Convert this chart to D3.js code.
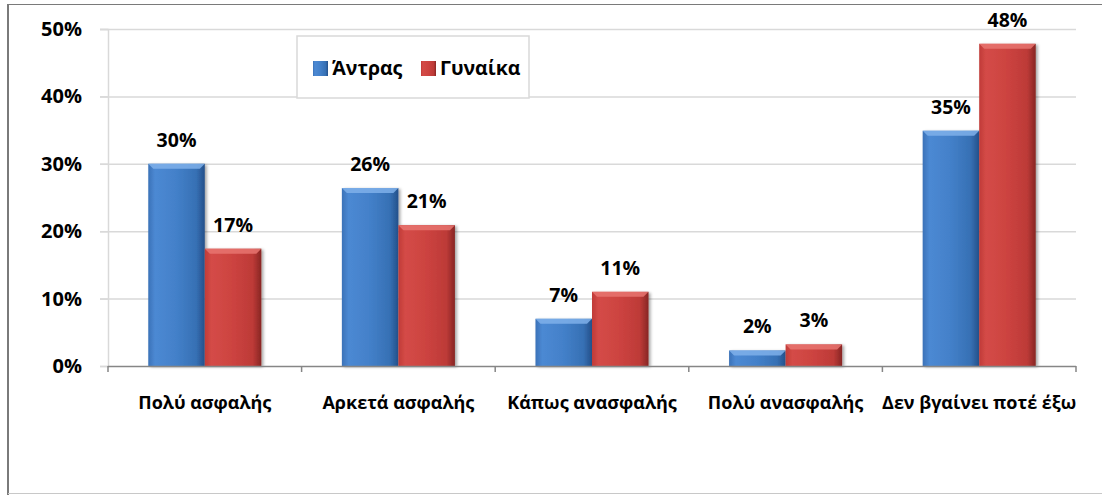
<!DOCTYPE html>
<html>
<head>
<meta charset="utf-8">
<script src="https://cdn.jsdelivr.net/npm/d3@7"></script>
<style>
  body { margin: 0; background: #fff; }
  svg { display: block; font-family: "Open Sans", sans-serif; font-weight: bold; }
</style>
</head>
<body>
<svg width="1102" height="495"></svg>
<script>
const categories = ['Πολύ ασφαλής', 'Αρκετά ασφαλής', 'Κάπως ανασφαλής', 'Πολύ ανασφαλής', 'Δεν βγαίνει ποτέ έξω'];
const seriesNames = ['Άντρας', 'Γυναίκα'];
const men = [30, 26.4, 7, 2.3, 34.9];
const women = [17.4, 20.9, 11, 3.2, 47.8];
const yTicks = [0, 10, 20, 30, 40, 50];

const margin = { left: 108, right: 26, top: 29, bottom: 129 };

const svg = d3.select('svg');
const width = +svg.attr('width');
const height = +svg.attr('height');
const innerWidth = width - margin.left - margin.right;
const innerHeight = height - margin.top - margin.bottom;

const rows = categories.map((c, i) => ({ cat: c, values: [men[i], women[i]] }));

// frame (cropped screenshot: top + left dark, bottom light)
svg.append('line').attr('x1', 7).attr('x2', width).attr('y1', 4.5).attr('y2', 4.5)
  .attr('stroke', '#7a7a7a').attr('stroke-width', 1);
svg.append('line').attr('x1', 8).attr('x2', 8).attr('y1', 4).attr('y2', height)
  .attr('stroke', '#7a7a7a').attr('stroke-width', 2);
svg.append('line').attr('x1', 8).attr('x2', width).attr('y1', 493.5).attr('y2', 493.5)
  .attr('stroke', '#c8c8c8').attr('stroke-width', 1);

const defs = svg.append('defs');
const grads = [
  { id: 'gBlue', stops: ['#3b72b8', '#4c89d3', '#4380c9', '#3670b4', '#24508a'] },
  { id: 'gRed', stops: ['#c03b38', '#d44b47', '#cc4340', '#bd3a37', '#872624'] }
];
grads.forEach(g => {
  const lg = defs.append('linearGradient').attr('id', g.id).attr('x1', 0).attr('x2', 1).attr('y1', 0).attr('y2', 0);
  [0, 0.12, 0.5, 0.85, 1].forEach((o, i) => lg.append('stop').attr('offset', o).attr('stop-color', g.stops[i]));
});
const shadow = defs.append('filter').attr('id', 'shadow').attr('x', '-10%').attr('y', '-10%').attr('width', '130%').attr('height', '130%');
shadow.append('feDropShadow').attr('dx', 2).attr('dy', 1).attr('stdDeviation', 1.5).attr('flood-color', '#000').attr('flood-opacity', 0.35);

const g = svg.append('g').attr('transform', `translate(${margin.left}, ${margin.top})`);

const yScale = d3.scaleLinear().domain([0, 50]).range([innerHeight, 0]);
const x0 = d3.scaleBand().domain(categories).range([0, innerWidth]).paddingInner(0.416).paddingOuter(0.208);
const x1 = d3.scaleBand().domain(seriesNames).range([0, x0.bandwidth()]);

// gridlines
g.selectAll('.grid').data(yTicks.filter(d => d > 0)).enter().append('line')
  .attr('class', 'grid')
  .attr('x1', -8).attr('x2', innerWidth)
  .attr('y1', d => yScale(d) + 0.5).attr('y2', d => yScale(d) + 0.5)
  .attr('stroke', '#d9d9d9').attr('stroke-width', 1.5);

// y axis
const yAxis = d3.axisLeft(yScale).tickValues(yTicks).tickSize(8).tickPadding(18)
  .tickFormat(d => d + '%');
const yG = g.append('g').call(yAxis);
yG.select('.domain').attr('stroke', '#d9d9d9').attr('stroke-width', 1.5);
yG.selectAll('.tick line').attr('stroke', '#d9d9d9').attr('stroke-width', 1.5);
yG.selectAll('.tick text').attr('fill', '#000').style('font-size', '20px').style('font-weight', 'bold')
  .style('font-family', '"Open Sans", sans-serif');

// bars
const fills = ['url(#gBlue)', 'url(#gRed)'];
const tops = ['#7fb0ea', '#e87470'];
const groups = g.selectAll('.grp').data(rows).enter().append('g')
  .attr('class', 'grp')
  .attr('transform', d => `translate(${x0(d.cat)}, 0)`);

const bars = groups.selectAll('.bar').data(d => d.values.map((v, i) => ({ v, i }))).enter().append('g')
  .attr('class', 'bar');

bars.append('rect')
  .attr('x', d => x1(seriesNames[d.i]))
  .attr('y', d => yScale(d.v))
  .attr('width', x1.bandwidth())
  .attr('height', d => innerHeight - yScale(d.v))
  .attr('fill', d => fills[d.i])
  .attr('filter', 'url(#shadow)');

// bevel highlight on top
bars.append('path')
  .attr('d', d => {
    const xl = x1(seriesNames[d.i]), xr = xl + x1.bandwidth(), yt = yScale(d.v);
    const b = Math.min(5, (innerHeight - yt) / 2);
    return `M${xl},${yt}L${xr},${yt}L${xr - b},${yt + b}L${xl + b},${yt + b}Z`;
  })
  .attr('fill', d => tops[d.i]).attr('opacity', 0.85);

// value labels
bars.append('text')
  .attr('x', d => x1(seriesNames[d.i]) + x1.bandwidth() / 2)
  .attr('y', d => yScale(d.v) - 17)
  .attr('text-anchor', 'middle')
  .style('font-size', '19.5px')
  .text(d => Math.round(d.v) + '%');

// x axis
const step = x0.step();
const bounds = d3.range(categories.length + 1).map(i => i * step);
g.append('line').attr('x1', 0).attr('x2', innerWidth).attr('y1', innerHeight + 0.5).attr('y2', innerHeight + 0.5)
  .attr('stroke', '#868686').attr('stroke-width', 1.5);
g.selectAll('.xtick').data(bounds).enter().append('line')
  .attr('x1', d => d).attr('x2', d => d)
  .attr('y1', innerHeight).attr('y2', innerHeight + 6)
  .attr('stroke', '#868686').attr('stroke-width', 1.5);
g.selectAll('.xlabel').data(categories).enter().append('text')
  .attr('x', d => x0(d) + x0.bandwidth() / 2)
  .attr('y', innerHeight + 43)
  .attr('text-anchor', 'middle')
  .style('font-size', '18px')
  .text(d => d);

// legend
const legend = svg.append('g').attr('transform', 'translate(297, 36)');
legend.append('rect').attr('width', 232).attr('height', 62)
  .attr('fill', '#fff').attr('stroke', '#d9d9d9').attr('stroke-width', 1.5);
const legX = [16, 124];
seriesNames.forEach((s, i) => {
  legend.append('rect').attr('x', legX[i]).attr('y', 25).attr('width', 15).attr('height', 15)
    .attr('fill', fills[i]);
  legend.append('text').attr('x', legX[i] + 19).attr('y', 39)
    .style('font-size', '19.5px').text(s);
});
</script>
</body>
</html>
